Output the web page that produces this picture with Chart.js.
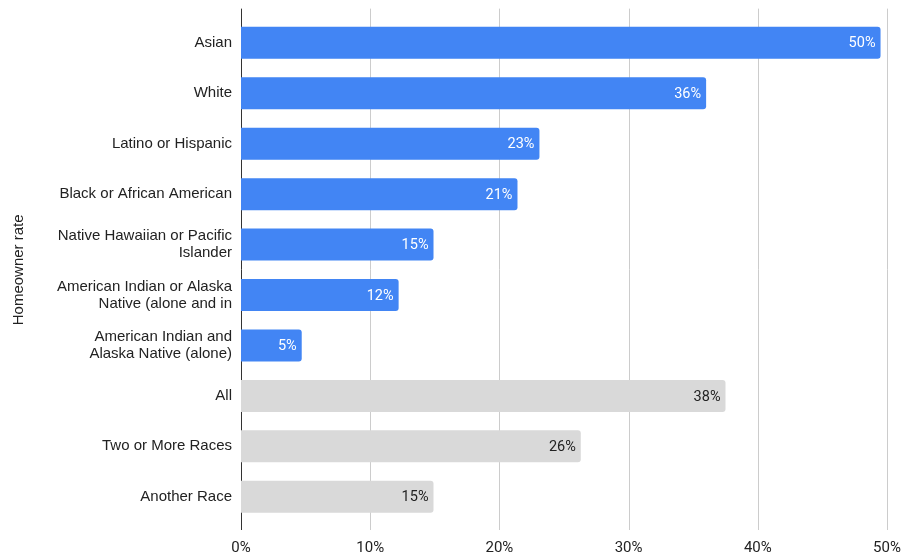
<!DOCTYPE html>
<html>
<head>
<meta charset="utf-8">
<title>Homeowner rate</title>
<script src="https://cdn.jsdelivr.net/npm/chart.js@4"></script>
<style>
  html, body { margin: 0; padding: 0; background: #fff; }
  #wrap { width: 902px; height: 555px; }
</style>
</head>
<body>
<div id="wrap"><canvas id="rateChart"></canvas></div>
<script>
// Kategori (label panjang dipecah per baris)
const groups = [
  'Asian',
  'White',
  'Latino or Hispanic',
  'Black or African American',
  ['Native Hawaiian or Pacific', 'Islander'],
  ['American Indian or Alaska', 'Native (alone and in'],
  ['American Indian and', 'Alaska Native (alone)'],
  'All',
  'Two or More Races',
  'Another Race'
];

// Persentase pemilik rumah
const rates = [49.5, 36.0, 23.1, 21.4, 14.9, 12.2, 4.7, 37.5, 26.3, 14.9];

// Ras tertentu = biru, kelompok gabungan = abu-abu
const isGroupTotal = [false, false, false, false, false, false, false, true, true, true];

const xTicks = [0, 10, 20, 30, 40, 50];

const BLUE = '#4285f4';
const GREY = '#d9d9d9';
const LABEL_FONT = '"Liberation Sans", Arial, sans-serif';
const NUM_FONT = 'Roboto, "Liberation Sans", Arial, sans-serif';

// Garis grid vertikal (sedikit melewati area chart) + garis sumbu nol
const gridPlugin = {
  id: 'gridLines',
  beforeDatasetsDraw(chart) {
    const { ctx, chartArea, scales } = chart;
    ctx.save();
    ctx.lineWidth = 1;
    xTicks.forEach(v => {
      const x = Math.round(scales.x.getPixelForValue(v)) + 0.5;
      ctx.strokeStyle = v === 0 ? '#333333' : '#cccccc';
      ctx.beginPath();
      ctx.moveTo(x, chartArea.top - 9);
      ctx.lineTo(x, chartArea.bottom + 8);
      ctx.stroke();
    });
    ctx.restore();
  }
};

// Label nilai di ujung dalam batang
const valueLabels = {
  id: 'valueLabels',
  afterDatasetsDraw(chart) {
    const { ctx } = chart;
    const meta = chart.getDatasetMeta(0);
    ctx.save();
    ctx.font = '14.5px ' + NUM_FONT;
    ctx.textAlign = 'right';
    ctx.textBaseline = 'middle';
    meta.data.forEach((bar, i) => {
      ctx.fillStyle = isGroupTotal[i] ? '#222222' : '#ffffff';
      ctx.fillText(Math.round(rates[i]) + '%', bar.x - 5, bar.y + 1);
    });
    ctx.restore();
  }
};

const ctx = document.getElementById('rateChart').getContext('2d');
const rateChart = new Chart(ctx, {
  type: 'bar',
  data: {
    labels: groups,
    datasets: [{
      label: 'Homeowner rate',
      data: rates,
      backgroundColor: isGroupTotal.map(g => g ? GREY : BLUE),
      borderWidth: 0,
      borderRadius: 3,
      borderSkipped: 'start',
      barPercentage: 0.634,
      categoryPercentage: 1
    }]
  },
  options: {
    indexAxis: 'y',
    responsive: true,
    maintainAspectRatio: false,
    animation: false,
    layout: {
      padding: { top: 17, right: 0, bottom: 0, left: 0 }
    },
    plugins: {
      legend: { display: false },
      tooltip: { enabled: false }
    },
    scales: {
      x: {
        min: 0,
        max: 50,
        afterBuildTicks: scale => {
          scale.ticks = xTicks.map(v => ({ value: v }));
        },
        afterFit: scale => {
          scale.height = 33;
          scale.paddingLeft = 0;
          scale.paddingRight = 15;
        },
        grid: { display: false, drawTicks: false, tickLength: 0 },
        border: { display: false },
        ticks: {
          padding: 17,
          color: '#222222',
          font: { family: NUM_FONT, size: 15 },
          callback: v => v + '%'
        }
      },
      y: {
        afterFit: scale => { scale.width = 241; },
        grid: { display: false, drawTicks: false, tickLength: 0 },
        border: { display: false },
        ticks: {
          padding: 9,
          color: '#222222',
          font: { family: LABEL_FONT, size: 15, lineHeight: 1.15 }
        },
        title: {
          display: true,
          text: 'Homeowner rate',
          color: '#222222',
          font: { family: LABEL_FONT, size: 15 },
          padding: { top: 10, bottom: 4 }
        }
      }
    }
  },
  plugins: [gridPlugin, valueLabels]
});
</script>
</body>
</html>
